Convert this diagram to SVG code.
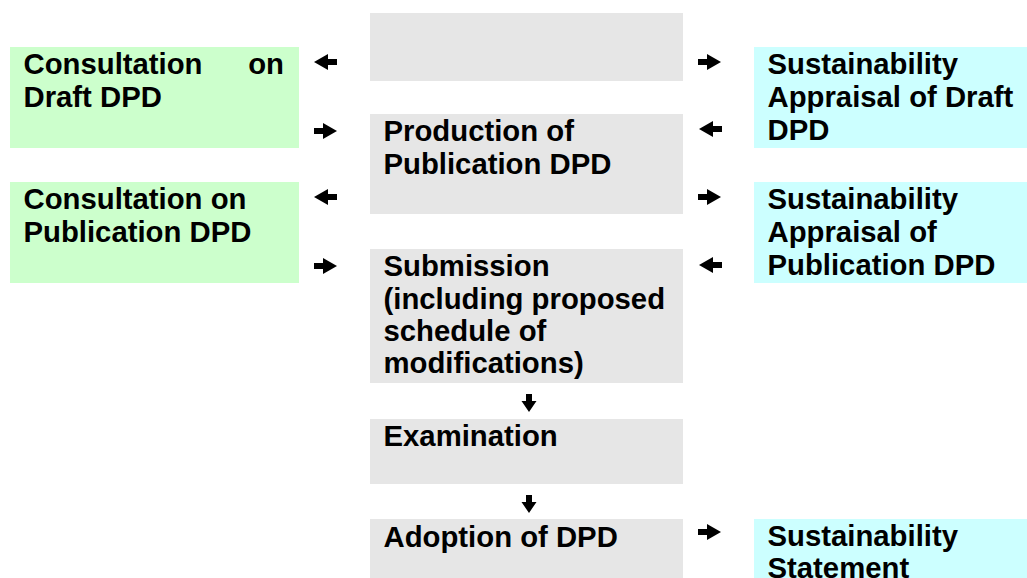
<svg xmlns="http://www.w3.org/2000/svg" xmlns:xlink="http://www.w3.org/1999/xlink" width="1027" height="578" viewBox="0 0 1027 578">
<style>
.t{font-family:"Liberation Sans",Arial,sans-serif;font-weight:bold;font-size:29.3px;fill:#000}
.g{fill:#CCFFCC}
.p{fill:#E6E6E6}
.c{fill:#CCFFFF}
.a{fill:#000}
</style>
<defs>
<path id="ar" d="M-23,-3 H-14 V-8 L0,0 L-14,8 V3 H-23 Z"/>
<path id="ad" d="M-3,-18 H3 V-11 H7.5 L0,0 L-7.5,-11 H-3 Z"/>
</defs>
<rect width="1027" height="578" fill="#fff"/>
<g id="n-top">
<rect class="p" x="370" y="13" width="313" height="68"/>
</g>
<g id="n-consult-draft">
<rect class="g" x="10" y="47" width="289" height="101"/>
<text class="t" x="23.5" y="74">Consultation</text>
<text class="t" x="284" y="74" text-anchor="end">on</text>
<text class="t" x="23.5" y="107">Draft DPD</text>
</g>
<g id="n-sa-draft">
<rect class="c" x="754" y="47" width="273" height="101"/>
<text class="t" x="767.5" y="74">Sustainability</text>
<text class="t" x="767.5" y="107">Appraisal of Draft</text>
<text class="t" x="767.5" y="140">DPD</text>
</g>
<g id="n-production">
<rect class="p" x="370" y="114" width="313" height="100"/>
<text class="t" x="383.5" y="141">Production of</text>
<text class="t" x="383.5" y="174">Publication DPD</text>
</g>
<g id="n-consult-pub">
<rect class="g" x="10" y="182" width="289" height="101"/>
<text class="t" x="23.5" y="209">Consultation on</text>
<text class="t" x="23.5" y="242">Publication DPD</text>
</g>
<g id="n-sa-pub">
<rect class="c" x="754" y="182" width="273" height="101"/>
<text class="t" x="767.5" y="209">Sustainability</text>
<text class="t" x="767.5" y="242">Appraisal of</text>
<text class="t" x="767.5" y="275">Publication DPD</text>
</g>
<g id="n-submission">
<rect class="p" x="370" y="249" width="313" height="134"/>
<text class="t" x="383.5" y="276">Submission</text>
<text class="t" x="383.5" y="309">(including proposed</text>
<text class="t" x="383.5" y="341">schedule of</text>
<text class="t" x="383.5" y="373">modifications)</text>
</g>
<g id="n-examination">
<rect class="p" x="370" y="419" width="313" height="65"/>
<text class="t" x="383.5" y="446">Examination</text>
</g>
<g id="n-adoption">
<rect class="p" x="370" y="519" width="313" height="59"/>
<text class="t" x="383.5" y="547">Adoption of DPD</text>
</g>
<g id="n-statement">
<rect class="c" x="754" y="519" width="273" height="59"/>
<text class="t" x="767.5" y="546">Sustainability</text>
<text class="t" x="767.5" y="578">Statement</text>
</g>
<g id="connectors" class="a">
<use xlink:href="#ar" transform="translate(314,62) rotate(180)"/>
<use xlink:href="#ar" transform="translate(337,131)"/>
<use xlink:href="#ar" transform="translate(314,197) rotate(180)"/>
<use xlink:href="#ar" transform="translate(337,266)"/>
<use xlink:href="#ar" transform="translate(721,62)"/>
<use xlink:href="#ar" transform="translate(699,129) rotate(180)"/>
<use xlink:href="#ar" transform="translate(721,197)"/>
<use xlink:href="#ar" transform="translate(699,265) rotate(180)"/>
<use xlink:href="#ar" transform="translate(721,532)"/>
<use xlink:href="#ad" transform="translate(529,412)"/>
<use xlink:href="#ad" transform="translate(529,513)"/>
</g>
</svg>
